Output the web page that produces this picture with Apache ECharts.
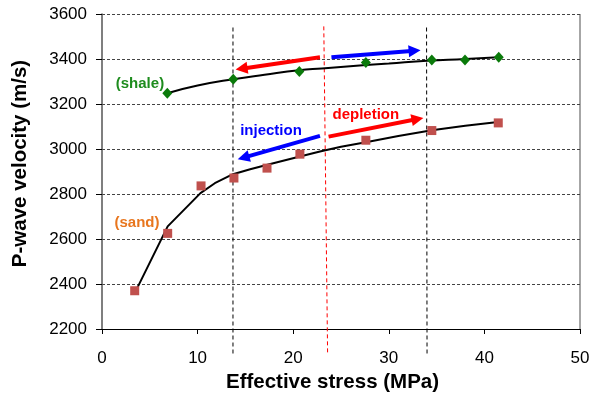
<!DOCTYPE html>
<html>
<head>
<meta charset="utf-8">
<script src="https://cdn.jsdelivr.net/npm/echarts@6/dist/echarts.min.js"></script>
<style>
  html, body { margin: 0; padding: 0; background: #fff; }
  #chart { width: 593px; height: 393px; }
</style>
</head>
<body>
<div id="chart"></div>
<script>
// measured points (MPa, m/s)
const shalePoints = [[6.83, 3248], [13.73, 3310], [20.64, 3344], [27.6, 3385], [34.5, 3396], [37.97, 3396], [41.5, 3408]];
const sandPoints = [[3.42, 2370], [6.87, 2625], [10.36, 2836], [13.8, 2871], [17.26, 2915], [20.7, 2977], [27.6, 3039], [34.5, 3082], [41.45, 3116]];

// fitted trend curves
const shaleFit = [[6.83, 3248], [10, 3282], [13.7, 3310], [17, 3330], [20.6, 3350], [23, 3358], [27.6, 3373], [30, 3380], [34, 3392], [38, 3400], [41.5, 3408]];
const sandFit = [[3.73, 2386], [6.87, 2656], [10.3, 2804], [11.8, 2848], [13.7, 2888], [15.5, 2910], [17.3, 2930], [20.7, 2967], [22.8, 2989], [25, 3010], [27.6, 3030], [31, 3058], [34.5, 3083], [38, 3103], [41.2, 3119]];

// dashed reference lines
const leftLine = [[13.7, 3540], [13.7, 2085]];
const rightLine = [[33.95, 3540], [34.0, 2085]];
const midLine = [[23.2, 3545], [23.6, 2085]];

// arrows [tail, head]
const redArrows = [[[22.8, 3408], [14.6, 3357]], [[23.7, 3055], [33.0, 3133]]];
const blueArrows = [[[24.0, 3408], [32.7, 3437]], [[22.8, 3058], [14.8, 2962]]];

// annotation labels
const greenLabels = [{ name: '(shale)', value: [3.97, 3289] }];
const orangeLabels = [{ name: '(sand)', value: [3.66, 2672] }];
const blueLabels = [{ name: 'injection', value: [17.68, 3080] }];
const redLabels = [{ name: 'depletion', value: [27.6, 3152] }];

const xTicks = { min: 0, max: 50, interval: 10 };
const yTicks = { min: 2200, max: 3600, interval: 200 };

const font = 'Arial, "Liberation Sans", sans-serif';

function vline(data, color) {
  return {
    type: 'line', data, clip: false, showSymbol: false, symbol: 'none', silent: true,
    lineStyle: { color, width: 1, type: [4, 3] }, z: 1
  };
}

function arrows(list, color) {
  return {
    type: 'lines', coordinateSystem: 'cartesian2d', silent: true, z: 4,
    symbol: ['none', 'triangle'], symbolSize: [0, 12],
    lineStyle: { color, width: 4, opacity: 1, curveness: 0 },
    data: list.map((a) => ({ coords: a }))
  };
}

function textLabels(data, color) {
  return {
    type: 'scatter', data, symbolSize: 0, silent: true, z: 6,
    itemStyle: { color, opacity: 1 },
    label: {
      show: true, position: 'inside', formatter: '{b}', color, opacity: 1,
      textBorderWidth: 0, fontFamily: font, fontWeight: 'bold', fontSize: 15
    }
  };
}

const chart = echarts.init(document.getElementById('chart'), null, { renderer: 'canvas' });

chart.setOption({
  animation: false,
  backgroundColor: '#fff',
  grid: { left: 102, right: 13, top: 14, bottom: 64, outerBoundsMode: 'none', containLabel: false },
  xAxis: {
    type: 'value', min: xTicks.min, max: xTicks.max, interval: xTicks.interval,
    name: 'Effective stress (MPa)', nameLocation: 'middle', nameGap: 40,
    nameTextStyle: { fontFamily: font, fontWeight: 'bold', fontSize: 20.5, color: '#000', padding: [0, 17, 0, 0] },
    axisLine: { show: true, onZero: false, lineStyle: { color: '#000', width: 1 } },
    axisTick: { show: true, inside: false, length: 5, lineStyle: { color: '#000' } },
    axisLabel: { fontFamily: font, fontSize: 17, color: '#000', margin: 21 },
    splitLine: { show: false }
  },
  yAxis: {
    type: 'value', min: yTicks.min, max: yTicks.max, interval: yTicks.interval,
    name: 'P-wave velocity (m/s)', nameLocation: 'middle', nameGap: 71,
    nameTextStyle: { fontFamily: font, fontWeight: 'bold', fontSize: 20.5, color: '#000', padding: [0, 0, 0, 16] },
    axisLine: { show: true, lineStyle: { color: '#555', width: 1.5 } },
    axisTick: { show: true, inside: false, length: 6, lineStyle: { color: '#000' } },
    axisLabel: { fontFamily: font, fontSize: 17, color: '#000', margin: 15, formatter: (v) => String(v) },
    splitLine: { show: true, lineStyle: { color: '#444', width: 1, type: [3, 2] } }
  },
  graphic: [{
    type: 'line', silent: true,
    shape: { x1: 580, y1: 14, x2: 580, y2: 329 },
    style: { stroke: '#888', lineWidth: 1.5 }
  }],
  series: [
    vline(leftLine, '#000'),
    vline(rightLine, '#000'),
    vline(midLine, '#ff0000'),
    {
      type: 'line', data: shaleFit, smooth: true, showSymbol: false, symbol: 'none',
      lineStyle: { color: '#000', width: 2 }, z: 2
    },
    {
      type: 'line', data: sandFit, smooth: false, showSymbol: false, symbol: 'none',
      lineStyle: { color: '#000', width: 2 }, z: 2
    },
    {
      type: 'scatter', data: shalePoints, symbol: 'diamond', symbolSize: [10, 11],
      itemStyle: { color: '#0a7a0a', opacity: 1 }, z: 3
    },
    {
      type: 'scatter', data: sandPoints, symbol: 'rect', symbolSize: 9,
      itemStyle: { color: '#c0504d', opacity: 1 }, z: 3
    },
    arrows(redArrows, '#ff0000'),
    arrows(blueArrows, '#0000ff'),
    textLabels(greenLabels, '#1e8c1e'),
    textLabels(orangeLabels, '#e8761e'),
    textLabels(blueLabels, '#0000ff'),
    textLabels(redLabels, '#ff0000')
  ]
});
</script>
</body>
</html>
